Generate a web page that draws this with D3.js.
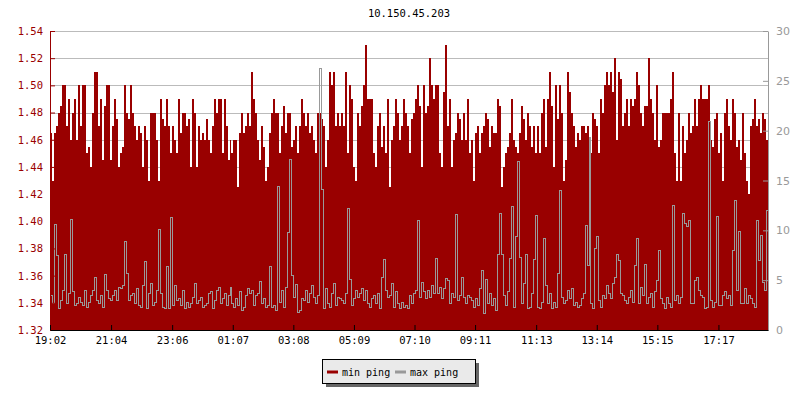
<!DOCTYPE html>
<html><head><meta charset="utf-8">
<script src="https://cdn.jsdelivr.net/npm/d3@7"></script>
<style>
body{margin:0;background:#fff}
svg{display:block}
text{font-family:"DejaVu Sans Mono",monospace;font-size:10px}
</style>
</head><body><svg id="c" width="800" height="400"></svg>
<script>
const title = "10.150.45.203";
const startTime = "19:02";
const stepSeconds = 239;
const tickLabels = ["19:02","21:04","23:06","01:07","03:08","05:09","07:10","09:11","11:13","13:14","15:15","17:17"];
const leftTicks = [1.32,1.34,1.36,1.38,1.40,1.42,1.44,1.46,1.48,1.50,1.52,1.54];
const rightTicks = [0,5,10,15,20,25,30];
const seriesNames = ["min ping","max ping"];
const seriesColors = ["#990000","#999999"];

const minPing = [
1.465,1.43,1.465,1.47,1.48,1.485,1.50,1.50,1.47,1.49,
1.46,1.48,1.49,1.46,1.50,1.47,1.50,1.50,1.45,1.455,
1.44,1.48,1.51,1.51,1.47,1.49,1.445,1.485,1.50,1.50,
1.445,1.47,1.49,1.475,1.44,1.45,1.455,1.50,1.48,1.475,
1.50,1.48,1.47,1.46,1.47,1.465,1.44,1.47,1.46,1.43,
1.48,1.48,1.48,1.46,1.43,1.49,1.475,1.47,1.49,1.47,
1.45,1.47,1.46,1.45,1.49,1.465,1.48,1.48,1.47,1.475,
1.44,1.49,1.48,1.44,1.47,1.46,1.465,1.46,1.475,1.46,
1.45,1.47,1.49,1.48,1.49,1.49,1.45,1.49,1.47,1.445,
1.46,1.45,1.46,1.46,1.425,1.465,1.48,1.465,1.47,1.48,
1.47,1.51,1.49,1.48,1.46,1.445,1.47,1.455,1.43,1.44,
1.465,1.48,1.49,1.48,1.48,1.45,1.47,1.485,1.465,1.48,
1.48,1.455,1.46,1.47,1.45,1.47,1.49,1.48,1.47,1.48,
1.465,1.47,1.46,1.45,1.48,1.48,1.475,1.47,1.44,1.46,
1.51,1.50,1.51,1.47,1.48,1.47,1.48,1.47,1.51,1.45,
1.50,1.49,1.44,1.43,1.48,1.47,1.485,1.50,1.53,1.49,
1.49,1.49,1.45,1.44,1.47,1.48,1.455,1.47,1.45,1.49,
1.425,1.46,1.47,1.49,1.48,1.46,1.47,1.49,1.48,1.47,
1.45,1.475,1.48,1.49,1.50,1.485,1.44,1.50,1.48,1.485,
1.52,1.50,1.49,1.50,1.50,1.45,1.44,1.495,1.53,1.47,
1.49,1.44,1.46,1.465,1.48,1.475,1.46,1.48,1.46,1.49,
1.45,1.46,1.43,1.465,1.47,1.45,1.465,1.47,1.48,1.475,
1.455,1.47,1.465,1.465,1.49,1.485,1.425,1.44,1.45,1.455,
1.465,1.49,1.46,1.455,1.45,1.465,1.485,1.475,1.46,1.48,
1.47,1.455,1.47,1.45,1.47,1.45,1.48,1.49,1.455,1.49,
1.51,1.485,1.44,1.50,1.475,1.50,1.48,1.43,1.445,1.51,
1.495,1.48,1.47,1.455,1.465,1.46,1.47,1.47,1.465,1.47,
1.44,1.45,1.48,1.475,1.47,1.45,1.49,1.48,1.50,1.51,
1.50,1.51,1.495,1.52,1.46,1.51,1.505,1.47,1.48,1.49,
1.47,1.49,1.485,1.49,1.51,1.50,1.48,1.47,1.485,1.485,
1.52,1.49,1.48,1.46,1.50,1.455,1.46,1.48,1.48,1.48,
1.48,1.49,1.51,1.45,1.43,1.48,1.43,1.47,1.45,1.46,
1.48,1.465,1.47,1.49,1.47,1.49,1.50,1.49,1.49,1.49,
1.50,1.46,1.455,1.475,1.48,1.45,1.465,1.43,1.48,1.49,
1.47,1.46,1.49,1.48,1.455,1.46,1.445,1.48,1.45,1.43,
1.42,1.47,1.475,1.49,1.47,1.475,1.465,1.48,1.475,1.46
];

const maxPing = [
3.5,2.7,10.6,7.5,2.2,3.0,4.0,7.6,2.7,3.7,
11.1,3.9,2.5,2.7,3.3,2.8,2.5,4.0,2.3,2.8,
3.5,4.0,5.3,3.0,2.7,3.5,2.3,5.6,4.0,3.2,
3.0,3.5,4.0,3.0,4.3,4.2,4.5,8.9,5.7,3.0,
3.5,3.7,2.7,4.2,2.5,2.3,4.5,6.9,2.2,3.7,
4.7,2.5,2.8,4.0,10.1,3.7,2.3,2.2,6.4,2.2,
11.3,2.5,4.5,3.0,3.2,2.5,4.0,2.2,2.8,2.3,
2.7,3.3,4.7,2.7,3.0,3.3,2.3,2.5,2.7,3.7,
3.9,2.2,3.0,4.0,4.3,2.7,3.2,3.7,2.5,3.5,
4.3,2.7,2.3,3.2,2.5,3.9,2.0,2.3,3.5,4.2,
3.7,4.0,2.5,3.5,3.7,4.9,2.7,3.2,2.3,2.5,
6.4,2.3,2.5,2.0,14.4,2.8,4.0,2.3,4.3,9.8,
17.2,5.5,3.3,4.6,1.8,2.0,3.2,3.0,4.0,2.8,
3.7,4.5,3.3,2.7,3.5,26.3,14.1,2.2,4.2,2.7,
2.3,3.7,4.7,2.5,3.3,3.2,3.0,2.7,3.7,12.2,
5.1,2.5,3.2,4.0,3.3,3.7,4.2,3.0,4.0,2.7,
2.3,3.2,3.5,2.7,3.7,2.2,5.3,7.1,4.0,3.3,
3.5,4.7,2.3,3.9,2.7,2.2,2.8,2.3,2.5,2.2,
3.5,2.7,3.7,4.0,11.0,3.3,4.8,3.9,3.2,4.0,
3.3,4.5,3.7,7.2,3.7,4.3,3.2,4.2,5.2,5.0,
2.7,3.7,3.3,11.6,3.0,3.5,5.3,3.3,2.7,3.5,
3.3,3.0,2.3,3.2,2.5,4.2,6.0,1.7,5.1,2.7,
3.7,2.5,3.2,2.0,7.6,11.7,7.6,3.5,2.5,3.9,
7.2,12.4,2.3,9.4,17.0,7.3,2.7,4.7,7.6,2.2,
2.3,3.7,7.1,11.5,2.3,2.2,2.8,9.2,4.5,2.7,
3.7,2.2,2.8,2.3,5.7,14.0,3.3,2.7,3.0,4.0,
3.2,4.2,2.5,2.8,2.3,2.5,3.2,3.7,10.5,6.5,
19.4,2.7,2.2,8.2,9.4,3.0,2.3,3.5,3.2,4.5,
3.7,3.2,4.7,5.3,7.6,7.0,3.7,3.5,3.0,2.7,
3.3,4.0,2.8,6.5,9.2,2.7,4.3,3.5,6.6,2.7,
3.3,3.7,2.3,3.9,5.0,8.0,3.2,2.7,2.2,3.3,
2.7,2.3,12.5,3.0,3.5,2.7,3.3,11.7,10.7,10.4,
11.0,2.7,2.7,5.0,5.3,4.0,3.5,3.3,2.2,2.3,
21.0,3.0,2.3,2.8,11.4,2.5,2.5,3.5,3.9,3.2,
3.5,2.5,8.0,13.0,4.0,9.9,2.7,2.7,4.2,2.7,
3.5,3.2,2.7,2.3,11.0,7.0,9.5,4.8,4.0,12.0
];

// ---- time handling ----
function parseHM(s, base) {
  const [h, m] = s.split(":").map(Number);
  return new Date(base.getFullYear(), base.getMonth(), base.getDate(), h, m);
}
const baseDay = new Date(2000, 0, 1);
const t0 = parseHM(startTime, baseDay);
const tickDates = [];
let day = new Date(baseDay);
tickLabels.forEach(lab => {
  let d = parseHM(lab, day);
  if (tickDates.length && d < tickDates[tickDates.length - 1]) {
    day = d3.timeDay.offset(day, 1);
    d = parseHM(lab, day);
  }
  tickDates.push(d);
});
const times = minPing.map((_, i) => d3.timeSecond.offset(t0, i * stepSeconds));
const tEnd = d3.timeSecond.offset(t0, minPing.length * stepSeconds);

// ---- layout ----
const L = 50, R = 768, T = 31, B = 330;
const svg = d3.select("#c");

const x = d3.scaleTime().domain([t0, tEnd]).range([L, R]);
const yL = d3.scaleLinear().domain([leftTicks[0], leftTicks[leftTicks.length - 1]]).range([B, T]);
const yR = d3.scaleLinear().domain([rightTicks[0], rightTicks[rightTicks.length - 1]]).range([B, T]);

svg.append("defs").append("clipPath").attr("id", "clip")
  .append("rect").attr("x", L).attr("y", T).attr("width", R - L).attr("height", B - T);

// gridlines
svg.append("g").selectAll("line").data(leftTicks).join("line")
  .attr("x1", L).attr("x2", R)
  .attr("y1", d => Math.round(yL(d)) + 0.5).attr("y2", d => Math.round(yL(d)) + 0.5)
  .attr("stroke", "#bbbbbb").attr("stroke-width", 1);

const minData = minPing.map((v, i) => ({t: times[i], v}));
minData.push({t: tEnd, v: minPing[minPing.length - 1]});
const maxData = maxPing.map((v, i) => ({t: times[i], v}));
maxData.push({t: tEnd, v: maxPing[maxPing.length - 1]});

const plot = svg.append("g").attr("clip-path", "url(#clip)");
plot.append("path").datum(minData)
  .attr("d", d3.area().x(d => Math.round(x(d.t))).y0(B).y1(d => Math.round(yL(d.v))).curve(d3.curveStepAfter))
  .attr("fill", seriesColors[0]).attr("shape-rendering", "crispEdges");
plot.append("path").datum(maxData)
  .attr("d", d3.line().x(d => Math.round(x(d.t)) + 0.5).y(d => Math.round(yR(d.v)) + 0.5).curve(d3.curveStepAfter))
  .attr("fill", "none").attr("stroke", seriesColors[1]).attr("stroke-width", 1)
  .attr("shape-rendering", "crispEdges");

// left axis
const leftMinor = d3.range(leftTicks.length * 2 - 1).map(i => leftTicks[0] + i * (leftTicks[1] - leftTicks[0]) / 2);
const gL = svg.append("g").attr("transform", `translate(${L},0)`);
gL.call(d3.axisLeft(yL).tickValues(leftMinor).tickSize(-3).tickSizeOuter(0).tickFormat(""));
gL.call(d3.axisLeft(yL).tickValues(leftTicks).tickSize(-5).tickSizeOuter(0).tickPadding(7).tickFormat(d3.format(".2f")));
gL.selectAll("path,line").attr("stroke", "#990000");
gL.selectAll("text").attr("fill", "#990000").style("font-size", "10.5px");
gL.attr("font-family", null).attr("font-size", null);

// right axis
const rightMinor = d3.range(rightTicks[0], rightTicks[rightTicks.length - 1] + 1, 1);
const gR = svg.append("g").attr("transform", `translate(${R},0)`);
gR.call(d3.axisRight(yR).tickValues(rightMinor).tickSize(-3).tickSizeOuter(0).tickFormat(""));
gR.call(d3.axisRight(yR).tickValues(rightTicks).tickSize(-5).tickSizeOuter(0).tickPadding(8));
gR.selectAll("path,line").attr("stroke", "#999999");
gR.selectAll("text").attr("fill", "#999999").style("font-family", "'DejaVu Sans',sans-serif").style("font-size", "11px");
gR.attr("font-family", null).attr("font-size", null);

// bottom axis
const gB = svg.append("g").attr("transform", `translate(0,${B})`);
gB.call(d3.axisBottom(x).tickValues(tickDates).tickSize(-5).tickSizeOuter(0).tickPadding(7)
  .tickFormat((d, i) => tickLabels[i]));
gB.selectAll("path,line").attr("stroke", "#000");
gB.selectAll("text").attr("fill", "#000").style("font-size", "10.5px");
gB.attr("font-family", null).attr("font-size", null);

// title
svg.append("text").attr("x", (L + R) / 2).attr("y", 17).attr("text-anchor", "middle")
  .attr("fill", "#000").style("font-size", "10.5px").text(title);

// legend
const lg = svg.append("g").attr("transform", "translate(322,359)");
lg.append("rect").attr("x", 4).attr("y", 4).attr("width", 153).attr("height", 24).attr("fill", "#666666");
lg.append("rect").attr("x", 0.5).attr("y", 0.5).attr("width", 153).attr("height", 24)
  .attr("fill", "#eaeaea").attr("stroke", "#000");
const itemX = [5, 73];
seriesNames.forEach((name, i) => {
  lg.append("line").attr("x1", itemX[i]).attr("x2", itemX[i] + 11).attr("y1", 13).attr("y2", 13)
    .attr("stroke", seriesColors[i]).attr("stroke-width", 3);
  lg.append("text").attr("x", itemX[i] + 15).attr("y", 16.5).attr("fill", "#000")
    .style("font-size", "10px").text(name);
});
</script>
</body></html>
